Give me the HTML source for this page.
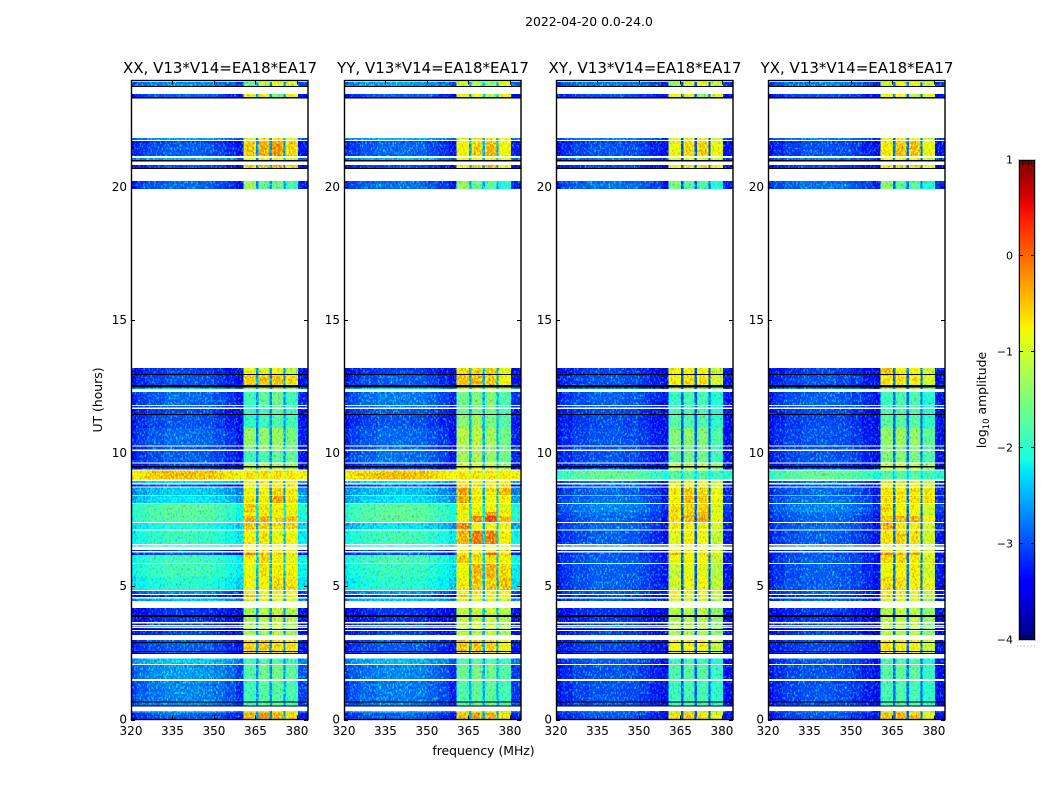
<!DOCTYPE html>
<html>
<head>
<meta charset="utf-8">
<title>2022-04-20 dynamic spectra</title>
<style>
html,body{margin:0;padding:0;background:#fff;width:1050px;height:800px;overflow:hidden}
svg{display:block}
text{font-family:"DejaVu Sans","Liberation Sans",sans-serif;fill:#000}
</style>
</head>
<body>
<svg id="chart" xmlns="http://www.w3.org/2000/svg" width="1050" height="800" viewBox="0 0 1050 800">
  <defs>
    <filter id="speckle" filterUnits="userSpaceOnUse" x="120" y="70" width="840" height="660" color-interpolation-filters="sRGB">
      <feTurbulence type="fractalNoise" baseFrequency="0.55 0.38" numOctaves="2" seed="7" result="n"/>
      <feColorMatrix in="n" type="matrix" values="1 0 0 0 0  0 1 0 0 0  0 0 1 0 0  0 0 0 0 1" result="rgbNoise"/>
      <feComposite in="SourceGraphic" in2="rgbNoise" operator="arithmetic" k1="1" k2="0.5" k3="0" k4="0" result="modulated"/>
      <feColorMatrix in="n" type="matrix" values="0 0 0 0 0  2.2 0 0 0 -1.12  0 0 0 0 0  0 0 0 0 1" result="g"/>
      <feComposite in="modulated" in2="g" operator="arithmetic" k1="0" k2="1" k3="1" k4="0" result="sum"/>
      <feComposite in="sum" in2="SourceAlpha" operator="in"/>
    </filter>
    <linearGradient id="jet-gradient" x1="0" y1="1" x2="0" y2="0"></linearGradient>
  </defs>
  <text x="589" y="26" font-size="12.4" text-anchor="middle">2022-04-20 0.0-24.0</text>
  <text x="483.5" y="755" font-size="12.4" text-anchor="middle">frequency (MHz)</text>
  <text x="102" y="400" font-size="12.4" text-anchor="middle" transform="rotate(-90 102 400)">UT (hours)</text>
  <text x="986" y="400" font-size="12.4" text-anchor="middle" transform="rotate(-90 986 400)">log<tspan font-size="8.5" dy="3">10</tspan><tspan dy="-3"> amplitude</tspan></text>
</svg>
<script>
// ---------- data ----------
const panelTitles = ["XX, V13*V14=EA18*EA17", "YY, V13*V14=EA18*EA17", "XY, V13*V14=EA18*EA17", "YX, V13*V14=EA18*EA17"];
const freqTicks = [320, 335, 350, 365, 380];
const hourTicks = [0, 5, 10, 15, 20];
const colorTicks = [1, 0, -1, -2, -3, -4];
const colorTickLabels = ["1", "0", "\u22121", "\u22122", "\u22123", "\u22124"];

// observation time slices (UT hours)
const rowStart = [23.94,23.49,21.84,21.73,21.65,21.09,20.83,20.23,13.20,12.92,12.47,12.30,11.77,11.66,11.42,10.95,10.25,10.08,9.62,9.35,8.96,8.83,8.72,8.41,8.10,7.79,7.64,7.38,7.10,6.54,6.37,6.27,6.18,5.84,5.35,4.83,4.68,4.55,4.19,3.61,3.50,3.44,3.32,2.99,2.29,2.05,1.45,0.32,0.26];
const rowEnd   = [23.79,23.38,21.77,21.65,21.17,21.02,20.71,19.92,12.92,12.56,12.41,11.81,11.72,11.42,10.95,10.29,10.14,9.65,9.39,9.01,8.88,8.76,8.44,8.14,7.79,7.64,7.42,7.14,6.59,6.49,6.33,6.18,5.88,5.35,4.86,4.71,4.60,4.45,3.66,3.54,3.47,3.36,3.17,2.46,2.08,1.52,0.49,0.26,0.00];

// flagged (black) time slices
const flaggedStart = [23.79,23.38,21.02,20.71,12.98,12.56,11.47,9.52,3.92,3.40,2.91,2.57,2.50,0.68,0.53];
const flaggedEnd   = [23.75,23.32,20.96,20.68,12.94,12.47,11.44,9.47,3.85,3.36,2.87,2.53,2.46,0.65,0.50];

// frequency columns (MHz)
const contEdges = [320,322,326,332,338,344,350,354,358,360.6];
const bandEdges = [[360.6,365.2],[365.9,370.1],[370.8,375.1],[375.8,380.3]];
const gapEdges = [[365.2,365.9],[370.1,370.8],[375.1,375.8]];
const rightEdges = [380.3,384];

// relative spectral response (log10 offset)
const contShape = [-0.3,-0.15,-0.03,0.05,0.06,0.02,-0.08,-0.2,-0.4];
const bandShape = [-0.14,0,-0.1];
const rightShape = -0.3;
const gapFloor = [-2.75,-2.6,-3.05,-2.95];

// log10 amplitude per time slice: [continuum, band1, band2, band3, band4]
const levelsXX = [
[-2.8,-1.6,-1.0,-0.8,-1.0],[-3.05,-0.7,-0.6,-1.5,-0.7],[-2.7,-0.9,-0.6,-0.6,-0.8],[-3.15,-0.45,-0.25,-0.2,-0.55],[-3.05,-0.4,-0.25,-0.12,-0.5],
[-2.6,-0.8,-0.7,-0.7,-0.9],[-3.1,-0.45,-0.25,-0.2,-0.35],[-3.0,-1.3,-1.6,-1.6,-1.8],[-3.2,-0.75,-0.95,-0.75,-1.15],[-3.1,-0.4,-0.35,-0.35,-0.55],
[-2.5,-1.4,-1.3,-1.3,-1.4],[-3.0,-1.85,-1.65,-1.55,-1.85],[-3.05,-2.0,-1.8,-1.7,-1.9],[-3.15,-1.95,-1.85,-1.65,-1.85],[-3.1,-1.95,-1.85,-1.75,-1.85],
[-3.0,-1.35,-1.35,-1.3,-1.5],[-3.05,-1.5,-1.35,-1.35,-1.55],[-3.05,-1.85,-1.75,-1.65,-1.65],[-3.15,-1.15,-1.15,-1.15,-1.25],[-0.42,-0.55,-0.55,-0.55,-0.6],
[-2.3,-0.75,-0.75,-0.75,-0.75],[-3.15,-0.55,-0.55,-0.55,-0.55],[-2.5,-0.75,-0.75,-0.45,-0.65],[-2.35,-0.55,-0.65,-0.2,-0.55],[-1.75,-0.4,-0.55,-0.65,-0.75],
[-1.75,-0.6,-0.65,-0.75,-0.8],[-1.8,-0.25,-0.25,-0.5,-0.35],[-2.1,-0.35,-0.45,-0.5,-0.45],[-1.95,-0.65,-0.55,-0.85,-0.75],[-2.3,-0.7,-0.7,-0.7,-0.7],
[-3.15,-0.7,-0.7,-0.7,-0.7],[-3.05,-0.1,-0.35,-0.45,-0.55],[-1.9,-0.7,-0.45,-0.7,-0.85],[-1.9,-0.8,-0.55,-0.65,-0.7],[-2.05,-0.8,-0.7,-0.5,-0.55],
[-2.85,-0.7,-0.75,-0.75,-0.75],[-3.25,-0.35,-0.75,-0.75,-0.75],[-2.55,-1.0,-1.0,-1.0,-1.0],[-3.25,-1.25,-1.15,-1.05,-1.15],[-3.2,-1.2,-1.1,-1.1,-1.2],
[-3.2,-1.2,-1.1,-1.1,-1.2],[-3.2,-1.2,-1.1,-1.1,-1.2],[-3.2,-1.25,-1.35,-1.15,-1.25],[-3.05,-0.45,-0.4,-0.5,-0.55],[-2.5,-1.85,-1.75,-1.75,-1.85],
[-2.75,-1.75,-1.55,-1.55,-1.65],[-2.85,-1.85,-1.7,-1.7,-1.8],[-2.4,-1.0,-1.0,-1.0,-1.0],[-3.05,-0.3,-0.1,-0.25,-0.45]];

const levelsYY = [
[-2.7,-1.0,-1.2,-1.4,-0.9],[-3.05,-0.7,-0.7,-1.2,-0.7],[-2.6,-0.8,-0.6,-0.7,-0.8],[-3.05,-0.7,-0.6,-0.5,-0.8],[-3.0,-0.7,-0.45,-0.3,-0.75],
[-2.6,-0.8,-0.7,-0.7,-0.9],[-3.1,-0.65,-0.45,-0.35,-0.7],[-2.95,-1.3,-1.6,-1.7,-2.0],[-3.2,-0.5,-0.45,-0.45,-0.85],[-3.05,-0.35,-0.3,-0.4,-0.7],
[-2.4,-1.1,-1.1,-1.1,-1.3],[-2.9,-1.55,-1.45,-1.45,-1.75],[-2.95,-1.6,-1.5,-1.5,-1.8],[-3.05,-1.6,-1.5,-1.5,-1.8],[-3.1,-1.4,-1.3,-1.5,-1.7],
[-3.0,-1.15,-1.1,-1.25,-1.55],[-3.0,-1.2,-1.2,-1.3,-1.5],[-2.95,-1.25,-1.2,-1.3,-1.55],[-3.15,-0.9,-0.9,-1.0,-1.2],[-0.42,-0.6,-0.6,-0.6,-0.65],
[-2.3,-0.7,-0.7,-0.7,-0.75],[-3.1,-0.5,-0.5,-0.5,-0.55],[-2.55,-0.15,-0.65,-0.55,-0.3],[-2.4,-0.25,-0.6,-0.75,-0.65],[-1.75,-0.55,-0.75,-0.65,-0.85],
[-1.7,-0.85,-0.55,-0.1,-0.65],[-1.75,-0.65,-0.05,0.25,-0.3],[-2.35,-0.05,-0.75,-0.75,-0.75],[-1.9,-0.3,0.0,0.0,-0.65],[-2.3,-0.7,-0.7,-0.7,-0.7],
[-3.1,-0.7,-0.7,-0.7,-0.7],[-3.05,-0.65,-0.5,0.05,-0.45],[-1.85,-0.4,-0.5,-0.5,-0.7],[-1.95,-0.75,-0.3,-0.25,-0.5],[-2.05,-0.6,-0.4,-0.4,-0.35],
[-2.75,-0.75,-0.75,-0.75,-0.75],[-3.15,-0.4,-0.7,-0.7,-0.75],[-2.55,-0.95,-0.95,-0.95,-1.0],[-3.25,-1.05,-1.0,-1.0,-1.15],[-3.2,-1.1,-1.0,-1.0,-1.2],
[-3.2,-1.1,-1.0,-1.0,-1.2],[-3.2,-1.1,-1.0,-1.0,-1.2],[-3.2,-1.1,-1.15,-1.05,-1.25],[-3.05,-0.4,-0.35,-0.45,-0.75],[-2.6,-1.75,-1.7,-1.75,-1.9],
[-2.85,-1.6,-1.5,-1.55,-1.7],[-2.9,-1.75,-1.65,-1.65,-1.8],[-2.4,-1.0,-1.0,-1.0,-1.1],[-3.05,-0.35,-0.2,-0.3,-0.6]];

const levelsXY = [
[-2.9,-1.35,-0.95,-0.85,-1.05],[-3.1,-0.75,-0.75,-1.35,-0.8],[-2.85,-0.9,-0.75,-0.75,-0.95],[-3.15,-0.75,-0.6,-0.55,-0.85],[-3.1,-0.75,-0.5,-0.45,-0.8],
[-2.9,-0.9,-0.8,-0.8,-1.0],[-3.15,-0.7,-0.55,-0.5,-0.8],[-2.95,-1.5,-1.7,-1.75,-2.0],[-3.2,-0.65,-0.7,-0.65,-1.0],[-3.1,-0.65,-0.55,-0.55,-0.95],
[-2.85,-1.3,-1.3,-1.3,-1.5],[-3.05,-1.9,-1.8,-1.8,-2.0],[-3.1,-1.9,-1.85,-1.85,-2.0],[-3.15,-1.8,-1.85,-1.8,-2.0],[-3.15,-1.7,-1.75,-1.75,-1.95],
[-3.1,-1.45,-1.4,-1.45,-1.75],[-3.1,-1.5,-1.5,-1.5,-1.8],[-3.1,-1.65,-1.55,-1.55,-1.85],[-3.2,-1.05,-1.05,-1.05,-1.35],[-1.7,-1.7,-1.7,-1.7,-1.85],
[-2.9,-0.85,-0.8,-0.8,-1.0],[-3.1,-0.8,-0.75,-0.75,-1.05],[-3.0,-0.6,-0.4,-0.45,-0.85],[-2.95,-0.65,-0.3,-0.4,-0.8],[-2.85,-0.5,-0.45,-0.45,-0.9],
[-2.95,-0.55,-0.4,-0.3,-0.9],[-3.0,-0.5,-0.3,-0.2,-0.8],[-3.0,-0.65,-0.65,-0.65,-0.95],[-3.05,-0.85,-0.65,-0.75,-1.05],[-2.95,-0.85,-0.8,-0.8,-1.05],
[-3.2,-0.8,-0.8,-0.8,-1.05],[-3.1,-0.3,-0.65,-0.5,-0.75],[-3.05,-0.8,-0.7,-0.7,-1.05],[-3.05,-1.05,-0.85,-0.85,-1.15],[-3.05,-0.95,-0.8,-0.75,-1.05],
[-3.05,-0.8,-0.85,-0.85,-1.05],[-3.2,-0.6,-0.85,-0.85,-1.05],[-3.05,-1.05,-1.05,-1.05,-1.25],[-3.25,-1.15,-1.1,-1.1,-1.35],[-3.2,-1.2,-1.15,-1.15,-1.4],
[-3.2,-1.2,-1.15,-1.15,-1.4],[-3.2,-1.2,-1.15,-1.15,-1.4],[-3.2,-1.2,-1.2,-1.2,-1.4],[-3.15,-0.75,-0.7,-0.75,-1.05],[-3.05,-1.85,-1.8,-1.85,-2.05],
[-3.1,-1.75,-1.7,-1.7,-1.9],[-3.1,-1.85,-1.8,-1.8,-1.95],[-2.85,-1.2,-1.1,-1.1,-1.3],[-3.1,-0.55,-0.4,-0.5,-0.8]];

const levelsYX = [
[-2.9,-1.0,-0.85,-0.85,-1.05],[-3.1,-0.75,-0.7,-1.1,-0.8],[-2.85,-0.85,-0.7,-0.7,-0.95],[-3.15,-0.6,-0.4,-0.4,-0.85],[-3.1,-0.6,-0.35,-0.35,-0.8],
[-2.9,-0.85,-0.75,-0.75,-1.0],[-3.15,-0.6,-0.4,-0.4,-0.8],[-2.95,-1.4,-1.65,-1.7,-2.0],[-3.2,-0.4,-0.7,-0.7,-1.0],[-3.1,-0.55,-0.55,-0.6,-0.95],
[-2.85,-1.2,-1.2,-1.25,-1.5],[-3.05,-1.85,-1.75,-1.75,-2.0],[-3.1,-1.85,-1.75,-1.75,-2.0],[-3.15,-1.75,-1.75,-1.75,-2.0],[-3.15,-1.7,-1.7,-1.7,-1.95],
[-3.1,-1.35,-1.3,-1.35,-1.65],[-3.1,-1.4,-1.4,-1.4,-1.7],[-3.1,-1.45,-1.45,-1.5,-1.75],[-3.2,-1.0,-1.0,-1.05,-1.3],[-1.7,-1.7,-1.7,-1.7,-1.85],
[-2.9,-0.8,-0.8,-0.8,-1.0],[-3.1,-0.75,-0.75,-0.75,-1.05],[-3.0,-0.55,-0.6,-0.55,-0.55],[-2.95,-0.55,-0.6,-0.55,-0.55],[-2.85,-0.45,-0.7,-0.7,-0.95],
[-2.95,-0.75,-0.65,-0.75,-1.05],[-3.0,-0.4,-0.3,-0.25,-0.7],[-3.0,-0.25,-0.6,-0.65,-0.95],[-3.05,-0.55,-0.45,-0.55,-0.95],[-2.95,-0.85,-0.8,-0.8,-1.05],
[-3.2,-0.8,-0.8,-0.8,-1.05],[-3.1,0.0,-0.4,-0.3,-0.8],[-3.05,-0.5,-0.5,-0.65,-0.95],[-3.05,-0.8,-0.7,-0.6,-0.95],[-3.05,-0.5,-0.55,-0.7,-0.85],
[-3.05,-0.8,-0.75,-0.8,-1.05],[-3.2,-0.35,-0.8,-0.8,-1.05],[-3.05,-1.0,-1.0,-1.0,-1.25],[-3.25,-1.1,-1.05,-1.1,-1.35],[-3.2,-1.15,-1.1,-1.1,-1.4],
[-3.2,-1.15,-1.1,-1.1,-1.4],[-3.2,-1.15,-1.1,-1.1,-1.4],[-3.2,-1.15,-1.15,-1.15,-1.4],[-3.15,-0.55,-0.6,-0.65,-1.0],[-3.05,-1.8,-1.75,-1.8,-2.05],
[-3.1,-1.7,-1.65,-1.65,-1.9],[-3.1,-1.8,-1.75,-1.8,-1.95],[-2.85,-1.1,-1.05,-1.1,-1.3],[-3.1,-0.4,-0.3,-0.4,-0.8]];

const panelLevels = [levelsXX, levelsYY, levelsXY, levelsYX];

// ---------- layout & scales ----------
const panelLeft = [131, 344, 556, 768];
const panelWidth = 177;
const plotTop = 80.5, plotBottom = 719.5;
const freqMin = 320, freqMax = 384;
const hourMin = 0, hourMax = 24;
const cbLeft = 1019, cbRight = 1035, cbTop = 160, cbBottom = 640, cbMin = -4, cbMax = 1;

function xScale(panel, f) { return panelLeft[panel] + (f - freqMin) / (freqMax - freqMin) * panelWidth; }
function yScale(h) { return plotBottom - (h - hourMin) / (hourMax - hourMin) * (plotBottom - plotTop); }
function cbScale(v) { return cbBottom - (v - cbMin) / (cbMax - cbMin) * (cbBottom - cbTop); }

function lerpTable(t, table) {
  for (let i = 1; i < table.length; i++) {
    if (t <= table[i][0]) {
      const a = table[i - 1], b = table[i];
      return a[1] + (t - a[0]) / (b[0] - a[0]) * (b[1] - a[1]);
    }
  }
  return table[table.length - 1][1];
}
const jetR = [[0,0],[0.35,0],[0.66,1],[0.89,1],[1,0.5]];
const jetG = [[0,0],[0.125,0],[0.375,1],[0.64,1],[0.91,0],[1,0]];
const jetB = [[0,0.5],[0.11,1],[0.34,1],[0.65,0],[1,0]];
function jet(v) {
  const t = Math.max(0, Math.min(1, (v - cbMin) / (cbMax - cbMin)));
  const c = table => Math.round(255 * lerpTable(t, table));
  return 'rgb(' + c(jetR) + ',' + c(jetG) + ',' + c(jetB) + ')';
}

const NS = 'http://www.w3.org/2000/svg';
const svg = document.getElementById('chart');
function make(tag, attrs, parent) {
  const e = document.createElementNS(NS, tag);
  for (const k in attrs) e.setAttribute(k, attrs[k]);
  (parent || svg).appendChild(e);
  return e;
}

// ---------- panels ----------
panelLevels.forEach(function (levels, p) {
  const panel = make('g', {});
  
  

  const heat = make('g', { filter: 'url(#speckle)', 'shape-rendering': 'crispEdges' }, panel);
  
  

  function cell(f0, f1, r, value) {
    const y0 = yScale(rowStart[r]), y1 = yScale(rowEnd[r]);
    const x0 = xScale(p, f0), x1 = xScale(p, f1);
    const c = make('rect', { x: x0.toFixed(2), y: y0.toFixed(2), width: (x1 - x0 + 0.3).toFixed(2), height: (y1 - y0).toFixed(2), fill: jet(value) }, heat);
    
    
  }

  levels.forEach(function (row, r) {
    const bg = row[0];
    for (let i = 0; i < contShape.length; i++) {
      cell(contEdges[i], contEdges[i + 1], r, bg + contShape[i]);
    }
    bandEdges.forEach(function (edge, b) {
      const w = edge[1] - edge[0];
      cell(edge[0], edge[0] + w * 0.22, r, row[b + 1] + bandShape[0]);
      cell(edge[0] + w * 0.22, edge[0] + w * 0.75, r, row[b + 1] + bandShape[1]);
      cell(edge[0] + w * 0.75, edge[1], r, row[b + 1] + bandShape[2]);
    });
    gapEdges.forEach(function (edge) {
      cell(edge[0], edge[1], r, Math.max(gapFloor[p], bg - 0.6));
    });
    cell(rightEdges[0], rightEdges[1], r, bg + rightShape);
  });

  const flagged = make('g', { 'shape-rendering': 'crispEdges' }, panel);
  
  
  flaggedStart.forEach(function (h, i) {
    const y0 = yScale(h), y1 = yScale(flaggedEnd[i]);
    const line = make('rect', { x: panelLeft[p], y: y0.toFixed(2), width: panelWidth, height: Math.max(1, y1 - y0).toFixed(2), fill: '#000' }, flagged);
    
    
  });

  const frame = make('rect', { x: panelLeft[p] + 0.5, y: plotTop, width: panelWidth - 0.5, height: plotBottom - plotTop, fill: 'none', stroke: '#000', 'stroke-width': 1.4 }, panel);
  
  

  const title = make('text', { x: panelLeft[p] + panelWidth / 2 + 0.5, y: 73, 'font-size': 15, 'text-anchor': 'middle' }, panel);
  title.textContent = panelTitles[p];
  
  

  freqTicks.forEach(function (f) {
    const x = Math.round(xScale(p, f)) + 0.5;
    const t1 = make('line', { x1: x, x2: x, y1: plotBottom, y2: plotBottom - 4, stroke: '#000', 'stroke-width': 1 }, panel);
    
    
    const t2 = make('line', { x1: x, x2: x, y1: plotTop, y2: plotTop + 4, stroke: '#000', 'stroke-width': 1 }, panel);
    
    
    const lab = make('text', { x: xScale(p, f), y: 735, 'font-size': 12, 'text-anchor': 'middle' }, panel);
    lab.textContent = f;
    
    
  });

  hourTicks.forEach(function (h) {
    const y = Math.round(yScale(h)) + 0.5;
    const t1 = make('line', { x1: panelLeft[p], x2: panelLeft[p] + 4, y1: y, y2: y, stroke: '#000', 'stroke-width': 1 }, panel);
    
    
    const t2 = make('line', { x1: panelLeft[p] + panelWidth, x2: panelLeft[p] + panelWidth - 4, y1: y, y2: y, stroke: '#000', 'stroke-width': 1 }, panel);
    
    
    const lab = make('text', { x: panelLeft[p] - 4, y: yScale(h) + 3.8, 'font-size': 12, 'text-anchor': 'end' }, panel);
    lab.textContent = h;
    
    
  });
});

// ---------- colorbar ----------
const grad = document.getElementById('jet-gradient');
for (let i = 0; i <= 40; i++) {
  const v = cbMin + (cbMax - cbMin) * i / 40;
  const stop = make('stop', { offset: (i / 40), 'stop-color': jet(v) }, grad);
}
const cb = make('g', {});



const cbOuter = make('rect', { x: cbLeft - 0.5, y: cbTop - 0.5, width: cbRight - cbLeft + 1, height: cbBottom - cbTop + 1, fill: 'none', stroke: '#c4c4c4', 'stroke-width': 1 }, cb);


const cbRamp = make('rect', { x: cbLeft + 0.5, y: cbTop + 0.5, width: cbRight - cbLeft - 1, height: cbBottom - cbTop - 1, fill: 'url(#jet-gradient)', stroke: '#000', 'stroke-width': 1 }, cb);



colorTicks.forEach(function (v, i) {
  const y = Math.round(cbScale(v)) + (v === cbMax ? 0.5 : -0.5);
  const l = make('line', { x1: cbLeft, x2: cbLeft + 4, y1: y, y2: y, stroke: '#000', 'stroke-width': 1 }, cb);
  
  
  const r = make('line', { x1: cbRight, x2: cbRight - 4, y1: y, y2: y, stroke: '#000', 'stroke-width': 1 }, cb);
  
  
  const lab = make('text', { x: 1013, y: cbScale(v) + 3.5, 'font-size': 11, 'text-anchor': 'end' }, cb);
  lab.textContent = colorTickLabels[i];
  
  
});

for (let i = 0; i < 4; i++) {
  const x = cbLeft + 3.5 + i * 3;
  const a = make('line', { x1: x, x2: x, y1: cbTop, y2: cbTop + 5, stroke: '#000', 'stroke-width': 0.8 }, cb);
  
  
  const b = make('line', { x1: x, x2: x, y1: cbBottom, y2: cbBottom - 5, stroke: '#000', 'stroke-width': 0.8 }, cb);
  
  
}
for (let i = 0; i < 6; i++) {
  const d = make('rect', { x: 1017 + i * 3.4, y: 645.5, width: 1, height: 1, fill: '#999' }, cb);
  
  
}
</script>
</body>
</html>
